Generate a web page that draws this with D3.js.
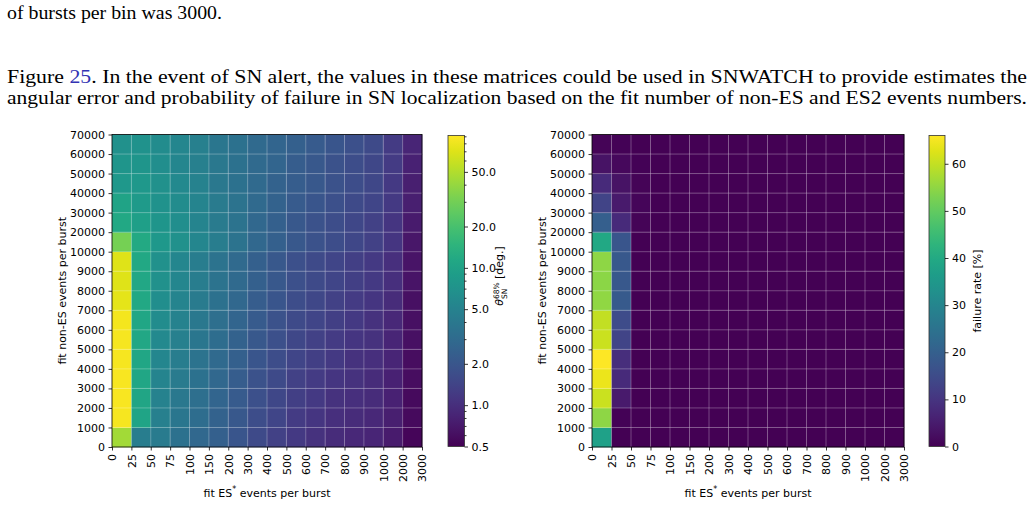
<!DOCTYPE html>
<html>
<head>
<meta charset="utf-8">
<script src="https://cdn.jsdelivr.net/npm/d3@7"></script>
<style>
body { margin: 0; background: #fff; }
svg { display: block; }
.axis text { font-family: "DejaVu Sans", sans-serif; font-size: 11px; fill: #000; }
.axis path, .axis line { stroke: #000; stroke-width: 0.8; }
.para { font-family: "Liberation Serif", serif; font-size: 18px; fill: #000; }
.lab { font-family: "DejaVu Sans", sans-serif; font-size: 11px; fill: #000; }
</style>
</head>
<body>
<div id="fig"></div>
<script>
// Bin edges (tick labels)
const esEdges = ["0", "25", "50", "75", "100", "150", "200", "300", "400", "500",
                 "600", "700", "800", "900", "1000", "2000", "3000"];
const nonEsEdges = ["0", "1000", "2000", "3000", "4000", "5000", "6000", "7000", "8000", "9000",
                    "10000", "20000", "30000", "40000", "50000", "60000", "70000"];

// theta_SN^68% [deg.] : one array per ES bin, values from lowest to highest non-ES bin
const thetaByEsBin = [
  [44.7, 86, 87, 88, 86, 85, 84, 74, 72, 71, 31, 11.4, 10.3, 8.0, 7.6, 6.8],
  [4.5, 10.5, 10.8, 11, 11, 11.2, 11, 11.3, 11.2, 11.4, 11.6, 9.3, 8.4, 8.0, 7.6, 7.2],
  [4.3, 4.75, 5.0, 5.25, 5.5, 5.85, 6.15, 6.5, 6.8, 6.8, 8.0, 7.6, 7.2, 6.8, 6.5, 6.15],
  [3.5, 3.85, 4.07, 4.3, 4.5, 4.75, 5.0, 5.25, 5.5, 5.5, 6.8, 6.5, 6.15, 5.85, 5.5, 5.5],
  [2.85, 3.15, 3.3, 3.5, 3.67, 3.85, 4.07, 4.3, 4.5, 4.5, 5.5, 5.25, 5.25, 5.0, 4.75, 4.75],
  [2.43, 2.55, 2.69, 2.85, 2.98, 3.15, 3.3, 3.5, 3.67, 3.67, 4.5, 4.3, 4.3, 4.07, 4.07, 3.85],
  [1.97, 2.08, 2.19, 2.3, 2.43, 2.55, 2.69, 2.85, 2.98, 2.98, 3.67, 3.67, 3.67, 3.5, 3.5, 3.5],
  [1.6, 1.69, 1.78, 1.87, 1.97, 2.08, 2.19, 2.3, 2.43, 2.43, 2.85, 2.85, 2.98, 2.98, 2.98, 2.98],
  [1.38, 1.45, 1.52, 1.6, 1.69, 1.78, 1.87, 1.97, 2.08, 2.08, 2.43, 2.43, 2.55, 2.55, 2.69, 2.69],
  [1.18, 1.24, 1.31, 1.38, 1.45, 1.52, 1.6, 1.69, 1.78, 1.78, 2.08, 2.08, 2.19, 2.3, 2.3, 2.43],
  [1.06, 1.12, 1.18, 1.24, 1.31, 1.38, 1.45, 1.52, 1.6, 1.6, 1.87, 1.87, 1.97, 2.08, 2.08, 2.19],
  [0.95, 1.0, 1.06, 1.12, 1.18, 1.24, 1.31, 1.38, 1.45, 1.45, 1.69, 1.69, 1.78, 1.87, 1.87, 1.97],
  [0.9, 0.95, 1.0, 1.06, 1.06, 1.12, 1.18, 1.24, 1.31, 1.31, 1.52, 1.52, 1.6, 1.69, 1.69, 1.78],
  [0.85, 0.9, 0.95, 0.95, 1.0, 1.06, 1.06, 1.12, 1.18, 1.18, 1.38, 1.38, 1.45, 1.52, 1.52, 1.6],
  [0.73, 0.77, 0.81, 0.81, 0.85, 0.85, 0.9, 0.95, 1.0, 1.0, 1.12, 1.12, 1.18, 1.18, 1.24, 1.24],
  [0.54, 0.57, 0.57, 0.59, 0.59, 0.62, 0.62, 0.62, 0.66, 0.66, 0.69, 0.73, 0.77, 0.77, 0.81, 0.85]
];

// failure rate [%] : same layout
const failByEsBin = [
  [37.6, 54.8, 60.7, 64, 66, 60.7, 60, 55, 54.5, 54.8, 39.6, 19.8, 13.2, 7.9, 3.3, 0.7],
  [0, 0.3, 4.5, 7.9, 8.6, 13.2, 15, 18.5, 17.8, 17.8, 17.5, 7.9, 4.6, 3.3, 1.3, 0.3],
  [0, 0, 0, 0, 0, 0, 0, 0, 0, 0, 0.2, 0.6, 0.8, 0.6, 0.4, 0.2],
  [0, 0, 0, 0, 0, 0, 0, 0, 0, 0, 0, 0, 0, 0, 0, 0],
  [0, 0, 0, 0, 0, 0, 0, 0, 0, 0, 0, 0, 0, 0, 0, 0],
  [0, 0, 0, 0, 0, 0, 0, 0, 0, 0, 0, 0, 0, 0, 0, 0],
  [0, 0, 0, 0, 0, 0, 0, 0, 0, 0, 0, 0, 0, 0, 0, 0],
  [0, 0, 0, 0, 0, 0, 0, 0, 0, 0, 0, 0, 0, 0, 0, 0],
  [0, 0, 0, 0, 0, 0, 0, 0, 0, 0, 0, 0, 0, 0, 0, 0],
  [0, 0, 0, 0, 0, 0, 0, 0, 0, 0, 0, 0, 0, 0, 0, 0],
  [0, 0, 0, 0, 0, 0, 0, 0, 0, 0, 0, 0, 0, 0, 0, 0],
  [0, 0, 0, 0, 0, 0, 0, 0, 0, 0, 0, 0, 0, 0, 0, 0],
  [0, 0, 0, 0, 0, 0, 0, 0, 0, 0, 0, 0, 0, 0, 0, 0],
  [0, 0, 0, 0, 0, 0, 0, 0, 0, 0, 0, 0, 0, 0, 0, 0],
  [0, 0, 0, 0, 0, 0, 0, 0, 0, 0, 0, 0, 0, 0, 0, 0],
  [0, 0, 0, 0, 0, 0, 0, 0, 0, 0, 0, 0, 0, 0, 0, 0]
];

const thetaTicks = [0.5, 1, 2, 5, 10, 20, 50];
const thetaMinor = [0.6, 0.7, 0.8, 0.9, 3, 4, 6, 7, 8, 9, 30, 40, 60, 70, 80, 90];
const failTicks = [0, 10, 20, 30, 40, 50, 60];

const W = 1034, H = 526;
const svg = d3.select("#fig").append("svg")
  .attr("width", W).attr("height", H);

svg.append("rect").attr("width", W).attr("height", H).attr("fill", "#fff");

// Paragraph text
svg.append("text").attr("class", "para").attr("x", 7).attr("y", 19)
  .attr("textLength", 215).attr("lengthAdjust", "spacingAndGlyphs")
  .text("of bursts per bin was 3000.");

const line1 = svg.append("text").attr("class", "para").attr("x", 7).attr("y", 83)
  .attr("textLength", 1020).attr("lengthAdjust", "spacingAndGlyphs");
line1.append("tspan").text("Figure ");
line1.append("tspan").attr("fill", "#3333b3").text("25");
line1.append("tspan").text(". In the event of SN alert, the values in these matrices could be used in SNWATCH to provide estimates the");

svg.append("text").attr("class", "para").attr("x", 7).attr("y", 104)
  .attr("textLength", 1020).attr("lengthAdjust", "spacingAndGlyphs")
  .text("angular error and probability of failure in SN localization based on the fit number of non-ES and ES2 events numbers.");

// Colorbar gradient (viridis)
const grad = svg.append("defs").append("linearGradient")
  .attr("id", "viridis").attr("x1", 0).attr("y1", 1).attr("x2", 0).attr("y2", 0);
grad.selectAll("stop").data(d3.range(0, 1.0001, 0.05)).enter().append("stop")
  .attr("offset", d => d)
  .attr("stop-color", d => d3.interpolateViridis(d));

function drawHeatmap(o) {
  const g = svg.append("g");
  const x = d3.scaleLinear().domain([0, esEdges.length - 1]).range([o.left, o.right]);
  const y = d3.scaleLinear().domain([0, nonEsEdges.length - 1]).range([o.bottom, o.top]);

  const cells = [];
  o.values.forEach((col, i) => col.forEach((v, j) => cells.push({ i: i, j: j, v: v })));

  g.selectAll("rect.cell")
    .data(cells).enter().append("rect")
    .attr("class", "cell")
    .attr("x", d => x(d.i))
    .attr("y", d => y(d.j + 1))
    .attr("width", d => x(d.i + 1) - x(d.i) + 0.3)
    .attr("height", d => y(d.j) - y(d.j + 1) + 0.3)
    .attr("fill", d => o.color(d.v));

  // grid
  g.selectAll("line.vgrid")
    .data(d3.range(1, esEdges.length - 1)).enter().append("line")
    .attr("x1", d => x(d)).attr("x2", d => x(d))
    .attr("y1", o.top).attr("y2", o.bottom)
    .attr("stroke", "#fff").attr("stroke-opacity", 0.35).attr("stroke-width", 0.8);
  g.selectAll("line.hgrid")
    .data(d3.range(1, nonEsEdges.length - 1)).enter().append("line")
    .attr("y1", d => y(d)).attr("y2", d => y(d))
    .attr("x1", o.left).attr("x2", o.right)
    .attr("stroke", "#fff").attr("stroke-opacity", 0.35).attr("stroke-width", 0.8);

  // frame
  g.append("rect")
    .attr("x", o.left).attr("y", o.top)
    .attr("width", o.right - o.left).attr("height", o.bottom - o.top)
    .attr("fill", "none").attr("stroke", "#000").attr("stroke-width", 0.8);

  // axes
  const xAxis = d3.axisBottom(x).tickValues(d3.range(esEdges.length))
    .tickFormat(i => esEdges[i]).tickSize(3.5).tickPadding(3.5);
  const xg = g.append("g").attr("class", "axis")
    .attr("transform", "translate(0," + o.bottom + ")")
    .call(xAxis);
  xg.select(".domain").remove();
  xg.selectAll("text")
    .attr("transform", "rotate(-90)")
    .attr("x", -7).attr("y", 0).attr("dy", "0.35em")
    .style("text-anchor", "end");

  const yAxis = d3.axisLeft(y).tickValues(d3.range(nonEsEdges.length))
    .tickFormat(i => nonEsEdges[i]).tickSize(3.5).tickPadding(3.5);
  const yg = g.append("g").attr("class", "axis")
    .attr("transform", "translate(" + o.left + ",0)")
    .call(yAxis);
  yg.select(".domain").remove();

  // axis labels
  const xl = g.append("text").attr("class", "lab")
    .attr("x", (o.left + o.right) / 2).attr("y", 497)
    .attr("text-anchor", "middle");
  xl.append("tspan").text("fit ES");
  xl.append("tspan").attr("font-size", "8px").attr("dy", -5).text("*");
  xl.append("tspan").attr("dy", 5).text(" events per burst");

  g.append("text").attr("class", "lab")
    .attr("transform", "translate(" + (o.left - 50) + "," + ((o.top + o.bottom) / 2) + ") rotate(-90)")
    .attr("text-anchor", "middle")
    .attr("dy", "0.35em")
    .text("fit non-ES events per burst");

  // colorbar
  const cb = g.append("g");
  cb.append("rect")
    .attr("x", o.cbLeft).attr("y", o.cbTop)
    .attr("width", o.cbWidth).attr("height", o.cbBottom - o.cbTop)
    .attr("fill", "url(#viridis)")
    .attr("stroke", "#333").attr("stroke-width", 0.8);

  const cbAxis = d3.axisRight(o.cbScale).tickValues(o.ticks)
    .tickFormat(o.tickFormat).tickSize(3.5).tickPadding(3.5);
  const cg = cb.append("g").attr("class", "axis")
    .attr("transform", "translate(" + (o.cbLeft + o.cbWidth) + ",0)")
    .call(cbAxis);
  cg.select(".domain").remove();
  if (o.minor) {
    cg.selectAll("line.minor")
      .data(o.minor).enter().append("line")
      .attr("class", "minor")
      .attr("x1", 0).attr("x2", 2)
      .attr("y1", d => o.cbScale(d)).attr("y2", d => o.cbScale(d))
      .attr("stroke", "#000").attr("stroke-width", 0.6);
  }

  o.cbLabel(cb);
}

// Left: angular error (log color scale)
const thetaScale = d3.scaleLog().domain([0.5, 92]).range([446.5, 135.5]);
drawHeatmap({
  left: 112, right: 422, top: 134.5, bottom: 447,
  values: thetaByEsBin,
  color: d3.scaleSequentialLog(d3.interpolateViridis).domain([0.5, 92]),
  cbLeft: 448, cbWidth: 16.5, cbTop: 135.5, cbBottom: 446.5,
  cbScale: thetaScale, ticks: thetaTicks, minor: thetaMinor,
  tickFormat: d3.format(".1f"),
  cbLabel: function(cb) {
    const t = cb.append("text").attr("class", "lab")
      .attr("transform", "translate(503,276) rotate(-90)")
      .attr("text-anchor", "middle");
    t.append("tspan").attr("font-style", "italic").text("θ");
    t.append("tspan").attr("font-size", "7.5px").attr("dy", -4.5).text("68%");
    t.append("tspan").attr("font-size", "7.5px").attr("dx", -16.5).attr("dy", 8).text("SN");
    t.append("tspan").attr("dx", 6).attr("dy", -3.5).text(" [deg.]");
  }
});

// Right: failure rate (linear color scale)
const failScale = d3.scaleLinear().domain([0, 66]).range([446.5, 135.5]);
drawHeatmap({
  left: 592, right: 904, top: 134.5, bottom: 447,
  values: failByEsBin,
  color: d3.scaleSequential(d3.interpolateViridis).domain([0, 66]),
  cbLeft: 929, cbWidth: 16, cbTop: 135.5, cbBottom: 446.5,
  cbScale: failScale, ticks: failTicks, minor: null,
  tickFormat: d3.format("d"),
  cbLabel: function(cb) {
    cb.append("text").attr("class", "lab")
      .attr("transform", "translate(977,291) rotate(-90)")
      .attr("text-anchor", "middle")
      .attr("dy", "0.35em")
      .text("failure rate [%]");
  }
});
</script>
</body>
</html>
